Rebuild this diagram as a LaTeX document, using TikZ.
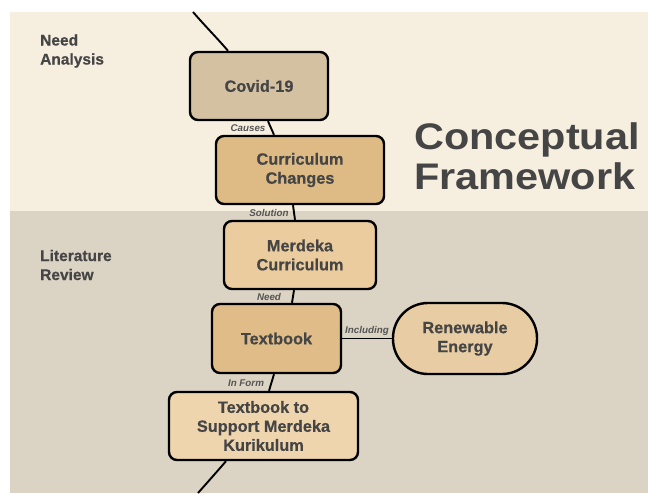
\documentclass[tikz,border=0pt]{standalone}
\usepackage{fontspec}
\setmainfont{Liberation Sans}
\newfontfamily\titlefont[FakeStretch=1.12]{Liberation Sans}
\newfontfamily\boxfont[FakeBold=0.6]{Liberation Sans}
\usetikzlibrary{calc}
\definecolor{topbg}{HTML}{F6EEDF}
\definecolor{botbg}{HTML}{DBD3C3}
\definecolor{covidc}{HTML}{D4C1A2}
\definecolor{ccc}{HTML}{DEBB85}
\definecolor{mcc}{HTML}{EBCC9E}
\definecolor{tbc}{HTML}{E0BD88}
\definecolor{rec}{HTML}{E8CCA3}
\definecolor{tsc}{HTML}{EFD5AE}
\definecolor{txt}{HTML}{454545}
\definecolor{lbl}{HTML}{555555}
\tikzset{
  box/.style={draw=black, line width=2.4pt, rounded corners=8pt, align=center,
    inner sep=0pt, text=txt, font=\boxfont\fontsize{16.3}{19}\selectfont\bfseries},
  conn/.style={draw=black, line width=1.9pt},
  lab/.style={text=lbl, inner sep=0pt, font=\fontsize{9.8}{11}\selectfont\bfseries\itshape},
  sect/.style={text=txt, inner sep=0pt, anchor=west, align=left, font=\boxfont\fontsize{15.5}{19}\selectfont\bfseries},
}
\begin{document}
\begin{tikzpicture}[x=1pt,y=-1pt]
\useasboundingbox (0,0) rectangle (648,493);
\fill[white] (0,0) rectangle (648,493);
\fill[topbg] (10,12) rectangle (648,211);
\fill[botbg] (10,211) rectangle (648,493);

% section labels
\node[sect] (need) at (40,51) {Need\\Analysis};
\node[sect] (lit) at (40,265) {Literature\\Review};

% title
\node[text=txt, inner sep=0pt, anchor=west, align=left,
  font=\titlefont\fontsize{37}{40}\selectfont\bfseries] (title) at (414,156) {Conceptual\\Framework};

% nodes
\node[box, fill=covidc, minimum width=138pt, minimum height=68pt] (covid) at (259,86) {Covid-19};
\node[box, fill=ccc, minimum width=168pt, minimum height=68pt] (cc) at (300,170) {Curriculum\\Changes};
\node[box, fill=mcc, minimum width=152pt, minimum height=68pt] (mc) at (300,255) {Merdeka\\Curriculum};
\node[box, fill=tbc, minimum width=129pt, minimum height=69pt] (tb) at (276.5,338.5) {Textbook};
\node[box, fill=rec, minimum width=144pt, minimum height=71pt, rounded corners=35pt] (re) at (465,338.5) {Renewable\\Energy};
\node[box, fill=tsc, minimum width=189pt, minimum height=68pt] (ts) at (263.5,426) {Textbook to\\Support Merdeka\\Kurikulum};

% free ends
\coordinate (topend) at (193,12);
\coordinate (botend) at (198,493);

% connectors
\draw[conn] (topend) .. controls (206,27) and (217,38) .. ([xshift=-31pt]covid.north);
\draw[conn] ([xshift=9pt]covid.south) -- ([xshift=-26pt]cc.north);
\draw[conn] ([xshift=-7pt]cc.south) -- ([xshift=-5pt]mc.north);
\draw[conn] ([xshift=-6pt]mc.south) -- ([xshift=15.5pt]tb.north);
\draw[conn] (tb.east) -- (re.west);
\draw[conn] ([xshift=-2.5pt]tb.south) -- ([xshift=5.5pt]ts.north);
\draw[conn] ([xshift=-37.5pt]ts.south) .. controls (214,475) and (206,484) .. (botend);

% labels
\node[lab] (lcauses) at (248,128) {Causes};
\node[lab] (lsol) at (269,213) {Solution};
\node[lab] (lneed) at (269,297) {Need};
\node[lab] (linc) at (367,331) {Including};
\node[lab] (lform) at (246,383) {In Form};
\end{tikzpicture}
\end{document}
